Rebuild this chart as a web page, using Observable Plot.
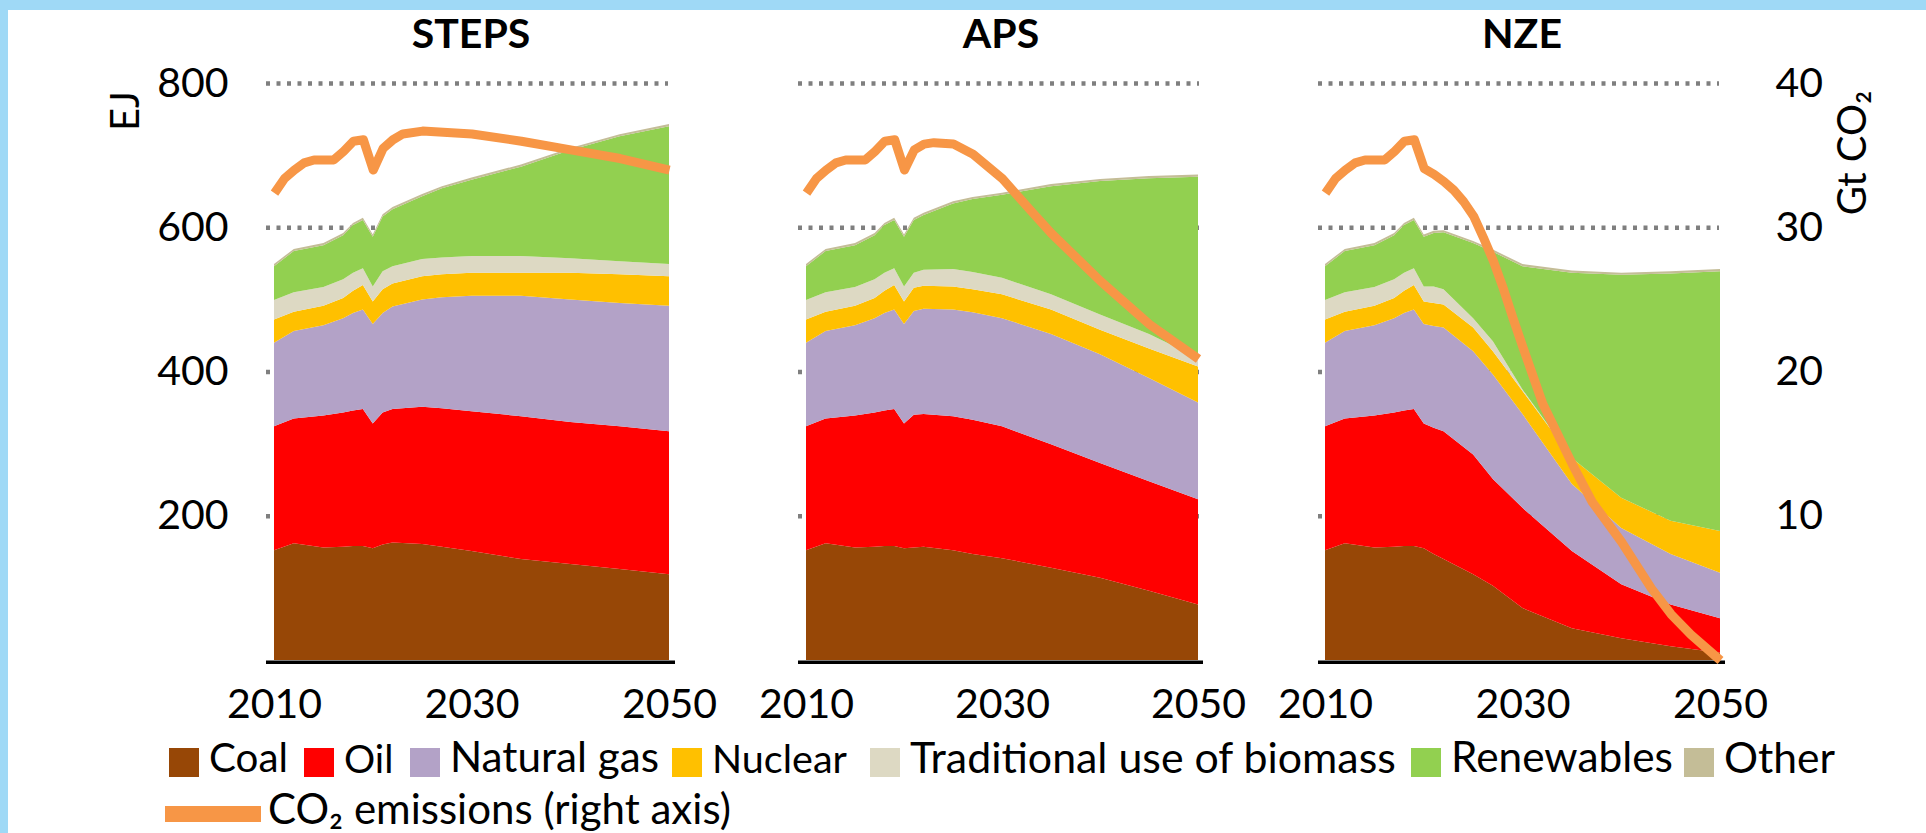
<!DOCTYPE html>
<html>
<head>
<meta charset="utf-8">
<script src="https://cdn.jsdelivr.net/npm/d3@7"></script>
<script src="https://cdn.jsdelivr.net/npm/@observablehq/plot@0.6"></script>
<style>
  html, body { margin: 0; padding: 0; background: #fff; }
  body { width: 1926px; height: 833px; position: relative; overflow: hidden; font-family: Lato, "Open Sans", sans-serif; color: #000; }
  .edge { position: absolute; background: #9fd9f6; z-index: 5; }
  .panel { position: absolute; left: 0; top: 0; }
  .vlabel { position: absolute; font-size: 40px; line-height: 40px; white-space: nowrap; transform: translate(-50%, -50%) rotate(-90deg); }
  .sw { position: absolute; width: 30px; height: 29px; top: 748px; }
  .lt { position: absolute; white-space: nowrap; }
</style>
</head>
<body>
<div class="edge" style="left:0;top:0;width:1926px;height:10px"></div>
<div class="edge" style="left:0;top:0;width:8px;height:833px"></div>
<div id="charts"></div>
<div id="legend"></div>
<script>
// ---------------- data ----------------
const years = [2010, 2012, 2015, 2017, 2018, 2019, 2020, 2021, 2022, 2025, 2027, 2030, 2035, 2040, 2045, 2050];
const fuels = ["Coal", "Oil", "Natural gas", "Nuclear", "Traditional use of biomass", "Renewables", "Other"];
const fuelColors = ["#974706", "#FF0000", "#B3A2C7", "#FFC000", "#DDD9C3", "#92D050", "#C4BD97"];
const scenarios = ["STEPS", "APS", "NZE"];

// EJ by fuel, STEPS
const STEPS_coal    = [152, 162, 156, 157, 158, 158, 155, 160, 163, 161, 157, 151, 140, 133, 126, 119];
const STEPS_oil     = [172, 173, 183, 186, 188, 190, 173, 183, 185, 190, 192, 194, 198, 197, 198, 198];
const STEPS_gas     = [116, 121, 125, 131, 135, 138, 138, 138, 142, 149, 154, 160, 167, 170, 171, 174];
const STEPS_nuclear = [32, 27, 27, 28, 31, 34, 31, 33, 32, 32, 32, 32, 32, 37, 40, 41];
const STEPS_tradbio = [27, 27, 26, 26, 25, 23, 21, 25, 24, 24, 23, 23, 23, 20, 18, 17];
const STEPS_renew   = [47, 57, 58, 61, 66, 67, 69, 76, 79, 87, 96, 106, 124, 150, 173, 191];
const STEPS_other   = [3, 3, 3, 3, 3, 3, 3, 3, 3, 3, 3, 3, 3, 3, 3, 3];

// EJ by fuel, APS
const APS_coal    = [152, 162, 156, 157, 158, 158, 155, 156, 157, 152, 147, 141, 128, 114, 96, 77];
const APS_oil     = [172, 173, 183, 186, 188, 190, 173, 184, 184, 186, 186, 183, 171, 159, 152, 146];
const APS_gas     = [116, 121, 125, 131, 135, 138, 138, 144, 146, 148, 149, 150, 153, 151, 143, 134];
const APS_nuclear = [32, 27, 27, 28, 31, 34, 31, 32, 32, 32, 32, 33, 34, 34, 41, 50];
const APS_tradbio = [27, 27, 26, 26, 25, 23, 21, 21, 22, 24, 24, 23, 21, 21, 20, 12];
const APS_renew   = [47, 57, 58, 61, 66, 67, 69, 73, 76, 91, 101, 115, 150, 185, 216, 251];
const APS_other   = [3, 3, 3, 3, 3, 3, 3, 3, 3, 3, 3, 3, 3, 3, 3, 3];

// EJ by fuel, NZE
const NZE_coal    = [152, 162, 156, 157, 158, 158, 155, 147, 140, 119, 103, 72, 44, 30, 19, 10];
const NZE_oil     = [172, 173, 183, 186, 188, 190, 173, 175, 177, 166, 148, 139, 107, 75, 58, 48];
const NZE_gas     = [116, 121, 125, 131, 135, 138, 138, 141, 144, 143, 145, 130, 93, 78, 70, 63];
const NZE_nuclear = [32, 27, 27, 28, 31, 34, 31, 32, 32, 33, 32, 32, 36, 42, 46, 58];
const NZE_tradbio = [27, 27, 26, 26, 25, 23, 21, 23, 21, 13, 14, 2, 0, 0, 0, 0];
const NZE_renew   = [47, 57, 58, 61, 66, 67, 69, 74, 79, 104, 124, 171, 257, 309, 343, 360];
const NZE_other   = [3, 3, 3, 3, 3, 3, 3, 3, 3, 3, 3, 3, 3, 3, 3, 3];

// CO2 emissions, Gt CO2 (right axis)
const STEPS_co2Years = [2010, 2011, 2012, 2013, 2014, 2015, 2016, 2017, 2018, 2019, 2020, 2021, 2022, 2023, 2025, 2030, 2035, 2040, 2045, 2050];
const STEPS_co2      = [32.4, 33.4, 34.0, 34.5, 34.7, 34.7, 34.7, 35.3, 36.0, 36.1, 34.0, 35.5, 36.1, 36.5, 36.7, 36.5, 36.0, 35.4, 34.8, 34.0];
const APS_co2Years = [2010, 2011, 2012, 2013, 2014, 2015, 2016, 2017, 2018, 2019, 2020, 2021, 2022, 2023, 2025, 2027, 2030, 2033, 2035, 2040, 2045, 2050];
const APS_co2      = [32.4, 33.4, 34.0, 34.5, 34.7, 34.7, 34.7, 35.3, 36.0, 36.1, 34.0, 35.4, 35.8, 35.9, 35.8, 35.1, 33.4, 31.1, 29.6, 26.3, 23.3, 20.9];
const NZE_co2Years = [2010, 2011, 2012, 2013, 2014, 2015, 2016, 2017, 2018, 2019, 2020, 2021, 2022, 2023, 2024, 2025, 2026, 2027, 2028, 2029, 2030, 2032, 2034, 2035, 2037, 2040, 2043, 2045, 2047, 2050];
const NZE_co2      = [32.4, 33.4, 34.0, 34.5, 34.7, 34.7, 34.7, 35.3, 36.0, 36.1, 34.1, 33.7, 33.2, 32.6, 31.8, 30.8, 29.3, 27.7, 25.8, 23.7, 21.7, 17.8, 15.0, 13.6, 11.0, 8.2, 5.0, 3.2, 1.8, 0];

// axis ticks and labels
const xTicks = [2010, 2030, 2050];
const yTicks = [200, 400, 600, 800];
const EJ_PER_GT = 20; // right axis: 40 Gt CO2 sits at 800 EJ
const co2Label = "CO\u2082 emissions (right axis)";
const leftTitle = "EJ";
const rightTitle = "Gt CO\u2082";

// ---------------- assembly ----------------
const fuelSeries = {
  STEPS: [STEPS_coal, STEPS_oil, STEPS_gas, STEPS_nuclear, STEPS_tradbio, STEPS_renew, STEPS_other],
  APS:   [APS_coal, APS_oil, APS_gas, APS_nuclear, APS_tradbio, APS_renew, APS_other],
  NZE:   [NZE_coal, NZE_oil, NZE_gas, NZE_nuclear, NZE_tradbio, NZE_renew, NZE_other]
};
const co2Series = {
  STEPS: [STEPS_co2Years, STEPS_co2],
  APS: [APS_co2Years, APS_co2],
  NZE: [NZE_co2Years, NZE_co2]
};

// layout of the three panels (frame left/right in px)
const layout = {
  STEPS: {L: 266, R: 675, inL: 8, inR: 6, gridR: 7, axis: "left"},
  APS:   {L: 798, R: 1203, inL: 8, inR: 5, gridR: 4, axis: null},
  NZE:   {L: 1318, R: 1725, inL: 7, inR: 5, gridR: 6, axis: "right"}
};
const W = 1926, H = 740;

function panel(name) {
  const c = layout[name];
  const rows = [];
  fuelSeries[name].forEach((arr, i) => arr.forEach((v, j) => rows.push({year: years[j], fuel: fuels[i], value: v})));
  const [cy, cv] = co2Series[name];
  const co2 = cy.map((yr, j) => ({year: yr, gt: cv[j]}));
  const yOpts = {domain: [0, 800], ticks: yTicks, tickSize: 0, label: null, axis: c.axis};
  if (c.axis === "left") yOpts.tickPadding = 38;
  if (c.axis === "right") { yOpts.tickPadding = 50; yOpts.tickFormat = d => d / EJ_PER_GT; }
  return Plot.plot({
    width: W, height: H,
    marginLeft: c.L, marginRight: W - c.R, marginTop: 83, marginBottom: H - 660,
    style: {background: "transparent", fontFamily: "Lato, sans-serif", fontSize: "41px", color: "#000", overflow: "visible"},
    x: {domain: [2010, 2050], insetLeft: c.inL, insetRight: c.inR, ticks: xTicks, tickFormat: "d", tickSize: 0, tickPadding: 28, label: null},
    y: yOpts,
    color: {domain: fuels, range: fuelColors},
    marks: [
      Plot.ruleY(yTicks, {stroke: "#7f7f7f", strokeWidth: 4.5, strokeDasharray: "4 6.5", insetRight: c.gridR}),
      Plot.areaY(rows, {x: "year", y: "value", fill: "fuel", order: fuels, curve: "linear"}),
      Plot.ruleY([0], {stroke: "#000", strokeWidth: 3.5, dy: 1.75}),
      Plot.line(co2, {x: "year", y: d => d.gt * EJ_PER_GT, stroke: "#F79646", strokeWidth: 9, strokeLinecap: "butt", strokeLinejoin: "round"}),
      Plot.text([name], {frameAnchor: "top", lineAnchor: "bottom", dy: -36, fontWeight: "bold", fontSize: 41, fill: "#000"})
    ]
  });
}

const charts = document.getElementById("charts");
for (const s of scenarios) {
  const el = panel(s);
  el.classList.add("panel");
  charts.appendChild(el);
}

// rotated axis titles
function vlabel(text, cx, cy) {
  const d = document.createElement("div");
  d.className = "vlabel";
  d.textContent = text;
  d.style.left = cx + "px";
  d.style.top = cy + "px";
  document.body.appendChild(d);
}
vlabel(leftTitle, 124, 111);
vlabel(rightTitle, 1851, 153);

// legend
const legend = document.getElementById("legend");
const legendX = [169, 304, 410, 672, 870, 1411, 1684];        // swatch left edges
const legendTextEnd = [288, 393, 659, 847, 1396, 1673, 1835];  // where each label ends in the reference
const texts = [];
function makeText(str, x, baseline, endX) {
  const t = document.createElement("div");
  t.className = "lt";
  t.textContent = str;
  legend.appendChild(t);
  texts.push({el: t, x, baseline, endX});
}
function fit() {
  for (const o of texts) {
    let fs = 43;
    o.el.style.fontSize = fs + "px";
    const w = o.el.getBoundingClientRect().width;
    if (w > 0) fs = Math.max(39, Math.min(46, fs * (o.endX - o.x) / w));
    o.el.style.fontSize = fs + "px";
    o.el.style.lineHeight = (1.2 * fs) + "px";
    o.el.style.left = o.x + "px";
    o.el.style.top = (o.baseline - 0.987 * fs) + "px";
  }
}
fuels.forEach((f, i) => {
  const sw = document.createElement("div");
  sw.className = "sw";
  sw.style.left = legendX[i] + "px";
  sw.style.background = fuelColors[i];
  legend.appendChild(sw);
  makeText(f, legendX[i] + 40, 773, legendTextEnd[i]);
});
const ln = document.createElement("div");
ln.style.cssText = "position:absolute;left:165px;top:806px;width:96px;height:16px;background:#F79646";
legend.appendChild(ln);
makeText(co2Label, 268, 824, 731);
fit();
if (document.fonts && document.fonts.ready) document.fonts.ready.then(fit);
</script>
</body>
</html>
